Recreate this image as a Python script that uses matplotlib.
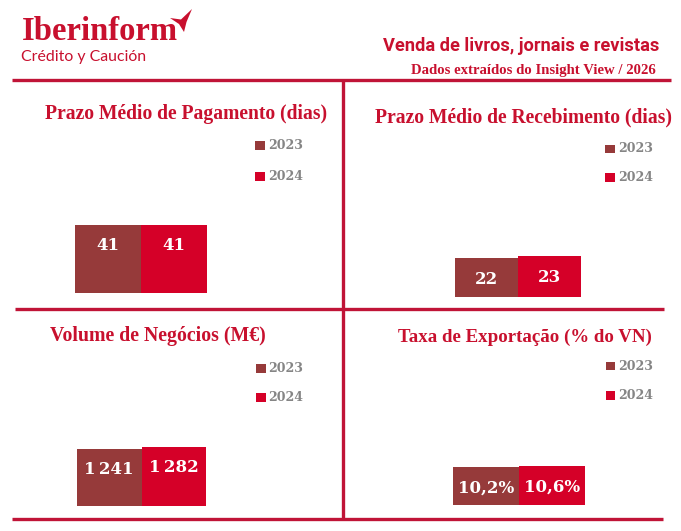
import matplotlib
matplotlib.use('Agg')
import matplotlib.pyplot as plt
from matplotlib.patches import Rectangle, Polygon
from matplotlib.lines import Line2D

# ---------------- data ----------------
years = ['2023', '2024']
titles = ['Prazo Médio de Pagamento (dias)',
          'Prazo Médio de Recebimento (dias)',
          'Volume de Negócios (M€)',
          'Taxa de Exportação (% do VN)']
prazo_pagamento = [41, 41]
prazo_recebimento = [22, 23]
volume_negocios = [1241, 1282]
taxa_exportacao = [10.2, 10.6]

header_title = 'Venda de livros, jornais e revistas'
header_sub = 'Dados extraídos do Insight View / 2026'
brand = 'Iberinform'
brand_sub = 'Crédito y Caución'


def fmt_int(v):
    return f'{int(round(v)):,}'.replace(',', '\u2009')


def fmt_pct(v):
    return f'{v:.1f}%'.replace('.', ',')


series = [
    (prazo_pagamento, fmt_int),
    (prazo_recebimento, fmt_int),
    (volume_negocios, fmt_int),
    (taxa_exportacao, fmt_pct),
]

# ---------------- style ----------------
W, H = 681, 531
C_LINE = '#c01437'
C_TITLE = '#c8102e'
C_2023 = '#963a3a'
C_2024 = '#d50028'
C_GREY = '#858585'
SERIF = ['Liberation Serif', 'DejaVu Serif']

fig = plt.figure(figsize=(W / 100, H / 100), dpi=100)
fig.patch.set_facecolor('white')
renderer = fig.canvas.get_renderer()


def fx(x):
    return x / W


def fy(y):
    return 1 - y / H


def fit_text(x0, x1, y, s, ha='left', va='baseline', fs=12, **kw):
    xa = x0 if ha == 'left' else (x1 if ha == 'right' else (x0 + x1) / 2)
    t = fig.text(fx(xa), fy(y), s, ha=ha, va=va, fontsize=fs, **kw)
    w = t.get_window_extent(renderer).width
    t.set_fontsize(fs * (x1 - x0) / w)
    return t


def hline(x0, x1, y):
    fig.add_artist(Line2D([fx(x0), fx(x1)], [fy(y), fy(y)], lw=2.4,
                          color=C_LINE, transform=fig.transFigure,
                          solid_capstyle='butt'))


def vline(x, y0, y1):
    fig.add_artist(Line2D([fx(x), fx(x)], [fy(y0), fy(y1)], lw=2.4,
                          color=C_LINE, transform=fig.transFigure,
                          solid_capstyle='butt'))


# ---------------- header ----------------
fit_text(21.5, 176.5, 40, brand, family=SERIF, fontweight='bold', color=C_TITLE)
fig.add_artist(Polygon([(fx(170), fy(18)), (fx(181), fy(19.5)), (fx(192), fy(9)),
                        (fx(186.5), fy(22)), (fx(184), fy(32)), (fx(179), fy(24))],
                       closed=True, transform=fig.transFigure,
                       facecolor=C_TITLE, edgecolor='none'))
fit_text(21, 146, 61, brand_sub, family=['Lato', 'DejaVu Sans'], color=C_TITLE)
fit_text(384, 659, 51, header_title, ha='right',
         family=['Liberation Sans Narrow', 'Roboto', 'DejaVu Sans'],
         fontweight='bold', color=C_TITLE)
fit_text(414, 656, 74, header_sub, ha='right', family=SERIF,
         fontweight='bold', color=C_TITLE)

# ---------------- grid lines ----------------
hline(12, 671, 80)
hline(15, 664, 308.5)
hline(12, 663, 519)
vline(342.5, 80, 518)

# ---------------- panels ----------------
# bar_left, bar_right, baseline, px per unit, title x0, x1, title baseline,
# legend square x, legend text x, legend y (2023), legend y (2024)
panels = [
    (75, 207, 293, 68 / 41, 45, 326, 119.5, 255, 268, 145.5, 176.5),
    (455, 581, 297, 40.6 / 23, 374.5, 671, 122.5, 605, 618, 149, 177.7),
    (77, 206, 506, 59.3 / 1282, 49.5, 265, 341.5, 256, 268.5, 368.3, 397.3),
    (453, 585, 504.5, 38.6 / 10.6, 398.5, 650, 341.5, 605.5, 618.3, 366, 395.7),
]

AXH = 130
for (vals, fmt), title, p in zip(series, titles, panels):
    bl, br, base, ppu, tx0, tx1, ty, sqx, ltx, ly1, ly2 = p
    ax = fig.add_axes([fx(bl), fy(base), (br - bl) / W, AXH / H])
    ax.set_xlim(-0.5, len(vals) - 0.5)
    ax.set_ylim(0, AXH / ppu)
    ax.axis('off')
    ax.bar(range(len(vals)), vals, width=1.0, color=[C_2023, C_2024],
           linewidth=0)
    for i, v in enumerate(vals):
        ax.annotate(fmt(v), (i, v), xytext=(0, -21), textcoords='offset pixels',
                    ha='center', va='center', color='white', fontsize=12,
                    fontweight='bold', family=['DejaVu Serif'])
    fit_text(tx0, tx1, ty, title, family=SERIF, fontweight='bold',
             color=C_TITLE)
    for yr, col, ly in zip(years, [C_2023, C_2024], [ly1, ly2]):
        fig.add_artist(Rectangle((fx(sqx), fy(ly + 4.3)), 9.5 / W, 8.6 / H,
                                 transform=fig.transFigure, facecolor=col,
                                 edgecolor='none'))
        fig.text(fx(ltx), fy(ly), yr, ha='left', va='center', fontsize=9,
                 fontweight='bold', family=['DejaVu Serif'], color=C_GREY)

fig.savefig('out.png', dpi=100, facecolor='white')
